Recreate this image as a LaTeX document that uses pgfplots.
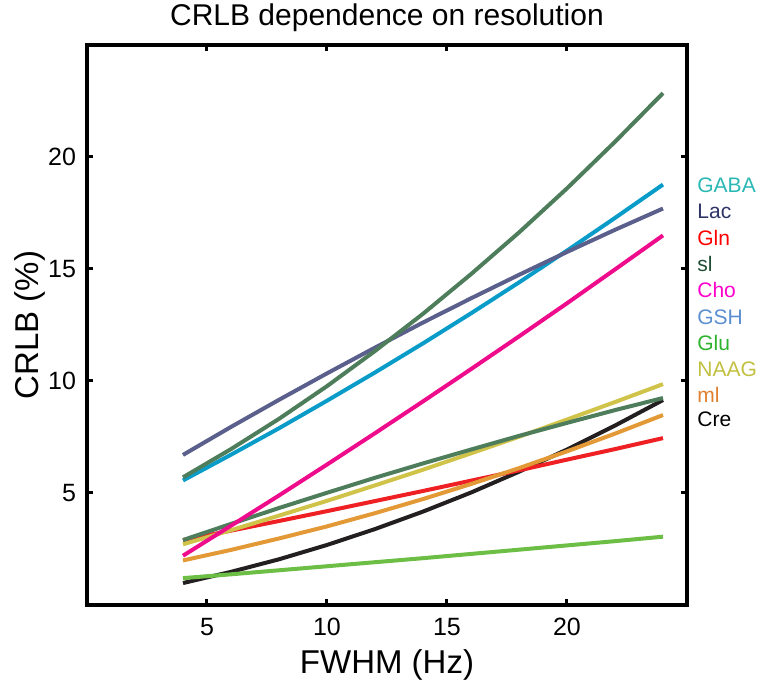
\documentclass[border=0pt]{standalone}
\usepackage{fontspec}
\setmainfont{Liberation Sans}
\usepackage{pgfplots}
\pgfplotsset{compat=1.18}
\definecolor{cSl}{HTML}{4E7D5B}
\definecolor{cLac}{HTML}{5A5F8C}
\definecolor{cCyan}{HTML}{0A9CC9}
\definecolor{cCho}{HTML}{EE0C8C}
\definecolor{cNAAG}{HTML}{CFC34A}
\definecolor{cGln}{HTML}{EE2024}
\definecolor{cMl}{HTML}{E39A36}
\definecolor{cCre}{HTML}{231F20}
\definecolor{cGlu}{HTML}{6CBE45}
% legend text colours
\definecolor{lGABA}{HTML}{2AB8B4}
\definecolor{lLac}{HTML}{2E3366}
\definecolor{lGln}{HTML}{FF0000}
\definecolor{lSl}{HTML}{1E4D33}
\definecolor{lCho}{HTML}{FF00CC}
\definecolor{lGSH}{HTML}{5B8FD0}
\definecolor{lGlu}{HTML}{2DB32D}
\definecolor{lNAAG}{HTML}{C2C040}
\definecolor{lMl}{HTML}{E08030}
\definecolor{lCre}{HTML}{000000}
\begin{document}
\begin{tikzpicture}
\begin{axis}[
  scale only axis, width=300pt, height=280pt,
  xmin=0, xmax=25, ymin=0, ymax=25,
  xtick={5,10,15,20}, ytick={5,10,15,20},
  tick align=inside, major tick length=3pt,
  every tick/.style={black, line width=1.5pt},
  axis line style={line width=2pt},
  tick label style={font=\fontsize{12.5}{14}\selectfont},
  xticklabel style={yshift=-3pt},
  yticklabel style={xshift=-2pt},
  /pgf/number format/assume math mode=true,
  xlabel={FWHM (Hz)}, ylabel={CRLB (\%)},
  label style={font=\fontsize{16.5}{19}\selectfont},
  xlabel style={at={(axis description cs:0.5,-0.107)}, anchor=center},
  ylabel style={at={(axis description cs:-0.095,0.5)}, anchor=center},
  title={CRLB dependence on resolution},
  title style={font=\fontsize{15}{18}\selectfont, at={(axis description cs:0.5,1.027)}, anchor=center},
  every axis plot/.append style={line width=2pt, no marks},
  clip=false,
]
% Cre
\addplot[cCre] coordinates {(4,0.98) (6,1.48) (8,2.04) (10,2.68) (12,3.39) (14,4.17) (16,5.02) (18,5.95) (20,6.94) (22,8.01) (24,9.15)};
% Glu
\addplot[cGlu] coordinates {(4,1.20) (6,1.37) (8,1.55) (10,1.73) (12,1.91) (14,2.09) (16,2.28) (18,2.47) (20,2.66) (22,2.85) (24,3.05)};
% Gln
\addplot[cGln] coordinates {(4,2.90) (6,3.32) (8,3.75) (10,4.19) (12,4.64) (14,5.09) (16,5.55) (18,6.01) (20,6.49) (22,6.96) (24,7.45)};
% mI
\addplot[cMl] coordinates {(4,1.99) (6,2.46) (8,2.97) (10,3.51) (12,4.10) (14,4.73) (16,5.40) (18,6.11) (20,6.86) (22,7.65) (24,8.48)};
% NAAG
\addplot[cNAAG] coordinates {(4,2.71) (6,3.34) (8,3.99) (10,4.65) (12,5.34) (14,6.04) (16,6.77) (18,7.51) (20,8.28) (22,9.06) (24,9.86)};
% lower green
\addplot[cSl] coordinates {(4,2.90) (6,3.62) (8,4.33) (10,5.01) (12,5.68) (14,6.32) (16,6.94) (18,7.55) (20,8.13) (22,8.70) (24,9.24)};
% Cho
\addplot[cCho] coordinates {(4,2.20) (6,3.54) (8,4.89) (10,6.27) (12,7.67) (14,9.09) (16,10.53) (18,11.99) (20,13.47) (22,14.98) (24,16.50)};
% cyan
\addplot[cCyan] coordinates {(4,5.56) (6,6.71) (8,7.89) (10,9.12) (12,10.38) (14,11.68) (16,13.02) (18,14.40) (20,15.82) (22,17.28) (24,18.77)};
% Lac
\addplot[cLac] coordinates {(4,6.70) (6,7.95) (8,9.16) (10,10.34) (12,11.49) (14,12.61) (16,13.69) (18,14.74) (20,15.76) (22,16.75) (24,17.70)};
% upper green
\addplot[cSl] coordinates {(4,5.70) (6,6.96) (8,8.31) (10,9.77) (12,11.34) (14,13.00) (16,14.77) (18,16.63) (20,18.60) (22,20.68) (24,22.85)};
\coordinate (O) at (rel axis cs:0,0);
\coordinate (NE) at (rel axis cs:1,1);
\end{axis}
\begin{scope}[every node/.style={anchor=west, inner sep=0pt, font=\fontsize{10.5}{12}\selectfont}]
\node[text=lGABA] at ([shift={(5pt,-70pt)}]NE) {GABA};
\node[text=lLac]  at ([shift={(5pt,-83pt)}]NE) {Lac};
\node[text=lGln]  at ([shift={(5pt,-96.5pt)}]NE) {Gln};
\node[text=lSl]   at ([shift={(5pt,-109.5pt)}]NE) {sl};
\node[text=lCho]  at ([shift={(5pt,-122.5pt)}]NE) {Cho};
\node[text=lGSH]  at ([shift={(5pt,-136pt)}]NE) {GSH};
\node[text=lGlu]  at ([shift={(5pt,-149pt)}]NE) {Glu};
\node[text=lNAAG] at ([shift={(5pt,-162pt)}]NE) {NAAG};
\node[text=lMl]   at ([shift={(5pt,-175pt)}]NE) {ml};
\node[text=lCre]  at ([shift={(5pt,-187pt)}]NE) {Cre};
\end{scope}
\pgfresetboundingbox
\path[use as bounding box] ([shift={(-43.5pt,-43pt)}]O) rectangle ([shift={(337.5pt,302.5pt)}]O);
\end{tikzpicture}
\end{document}
